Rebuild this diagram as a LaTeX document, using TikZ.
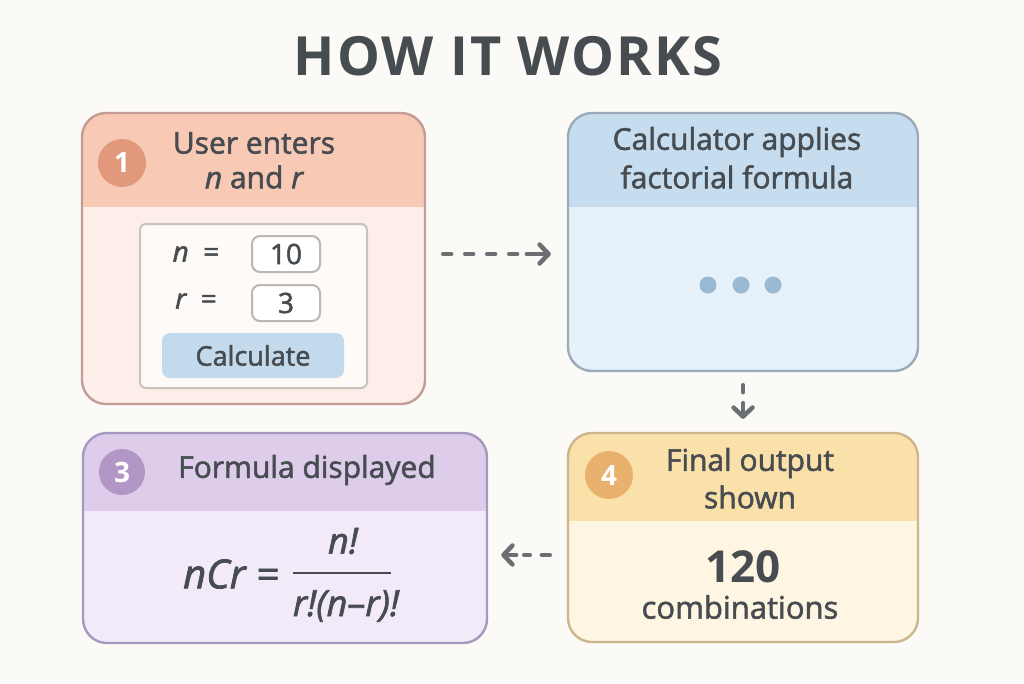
\documentclass[tikz,border=0pt]{standalone}
\usepackage{fontspec}
\setmainfont{Open Sans}
\newfontfamily\medfont{Open Sans}[FakeBold=1.8]
\newfontfamily\titlefont{Open Sans}[LetterSpace=4]
\usetikzlibrary{arrows.meta,calc}
\definecolor{bg}{HTML}{FBFAF7}
\definecolor{ink}{HTML}{474C50}
\definecolor{arr}{HTML}{6B6F72}
\definecolor{oHead}{HTML}{F8CAB6}
\definecolor{oBody}{HTML}{FDEEE9}
\definecolor{oLine}{HTML}{C49C96}
\definecolor{oBadge}{HTML}{E2987A}
\definecolor{bHead}{HTML}{C6DDF0}
\definecolor{bBody}{HTML}{E6F1FA}
\definecolor{bLine}{HTML}{9CABB9}
\definecolor{bDot}{HTML}{9AB9D3}
\definecolor{pHead}{HTML}{DDCDEA}
\definecolor{pBody}{HTML}{F2EAF8}
\definecolor{pLine}{HTML}{A699BF}
\definecolor{pBadge}{HTML}{B296C5}
\definecolor{yHead}{HTML}{FAE0A9}
\definecolor{yBody}{HTML}{FEF5E3}
\definecolor{yLine}{HTML}{CDB58C}
\definecolor{yBadge}{HTML}{E8B26E}
\definecolor{btn}{HTML}{C3DAED}
\definecolor{fieldLine}{HTML}{BEB6B1}
\definecolor{panel}{HTML}{FDFAF8}
\definecolor{panelLine}{HTML}{C9C3BF}
\tikzset{
  card/.style={draw, line width=2.4pt, rounded corners=24pt, inner sep=0pt},
  cardhead/.style 2 args={path picture={\fill[#1, sharp corners] (path picture bounding box.north west) rectangle ([yshift=-#2]path picture bounding box.north east);}},
  txt/.style={text=ink, font=\medfont\fontsize{30}{34}\selectfont, align=center, inner sep=0pt},
  badge/.style={circle, fill=#1, minimum size=48pt, inner sep=0pt, text=white, font=\fontsize{28}{30}\selectfont\bfseries},
  field/.style={draw=fieldLine, line width=2pt, fill=white, rounded corners=8pt, minimum width=68pt, minimum height=36pt, inner sep=0pt, text=ink, font=\medfont\fontsize{28}{30}\selectfont},
  dashpart/.style={draw=arr, line width=4.5pt, line cap=round, dash pattern=on 8pt off 14pt},
  headpart/.style={draw=arr, line width=4.5pt, line cap=round, -{Straight Barb[length=9pt,width=19pt,round]}}
}
\begin{document}
\begin{tikzpicture}[x=1pt,y=-1pt]
\useasboundingbox[fill=bg] (0,0) rectangle (1024,683);

\node[text=ink, font=\titlefont\fontsize{54}{60}\selectfont\bfseries] (title) at (508,56) {HOW IT WORKS};

% Card 1
\node[card, draw=oLine, fill=oBody, cardhead={oHead}{94pt}, minimum width=343pt, minimum height=291pt] (c1) at (253.5,258.5) {};
\node[badge=oBadge] (b1) at (122,163) {1};
\node[txt] (t1a) at (254,143) {User enters};
\node[txt] (t1b) at (254,177) {\itshape n\/\upshape{} and \itshape r};
\node[draw=panelLine, line width=2pt, fill=panel, rounded corners=6pt, minimum width=227pt, minimum height=164pt] (panel) at (253.5,306) {};
\node[txt, font=\medfont\fontsize{28}{30}\selectfont] (ln) at (196,254) {\itshape n\upshape\ \ =};
\node[txt, font=\medfont\fontsize{28}{30}\selectfont] (lr) at (196,301) {\itshape r\upshape\ \ =};
\node[field] (fn) at (286,254) {10};
\node[field] (fr) at (286,303) {3};
\node[fill=btn, rounded corners=8pt, minimum width=182pt, minimum height=45pt, inner sep=0pt, text=ink, font=\medfont\fontsize{27}{30}\selectfont] (calc) at (253,355.5) {Calculate};

% Card 2
\node[card, draw=bLine, fill=bBody, cardhead={bHead}{94pt}, minimum width=350pt, minimum height=258pt] (c2) at (743,242) {};
\node[txt] (t2a) at (737,142) {Calculator applies};
\node[txt] (t2b) at (737,177) {factorial formula};
\fill[bDot] (708,285) circle (8.5pt) (741,285) circle (8.5pt) (773,285) circle (8.5pt);

% Card 3
\node[card, draw=pLine, fill=pBody, cardhead={pHead}{78pt}, minimum width=404pt, minimum height=210pt] (c3) at (285,538) {};
\node[badge=pBadge, minimum size=46pt] (b3) at (122,472) {3};
\node[txt] (t3) at (307,470) {Formula displayed};
\node[txt, font=\medfont\fontsize{40}{44}\selectfont\itshape, anchor=east] (lhs) at (279,574) {nCr =};
\node[txt, font=\medfont\fontsize{36}{40}\selectfont\itshape] (num) at (343,541) {n!};
\node[txt, font=\medfont\fontsize{36}{40}\selectfont\itshape] (den) at (346,606) {r!(n{\upshape –}r)!};
\draw[ink, line width=2.6pt] (293,573) coordinate (fl) -- (391,573) coordinate (fr2);

% Card 4
\node[card, draw=yLine, fill=yBody, cardhead={yHead}{88pt}, minimum width=350pt, minimum height=209pt] (c4) at (743,537.5) {};
\node[badge=yBadge] (b4) at (609,475) {4};
\node[txt] (t4a) at (750,463) {Final output};
\node[txt] (t4b) at (750,497) {shown};
\node[txt, font=\fontsize{44}{48}\selectfont\bfseries] (res) at (743,567) {120};
\node[txt, font=\medfont\fontsize{31}{34}\selectfont] (comb) at (740,607) {combinations};

% Connectors
% 1 -> 2
\coordinate (a1s) at ([xshift=17pt,yshift=4.5pt]c1.east);
\coordinate (a1m) at ([xshift=-40pt,yshift=4.5pt]c1.east -| c2.west);
\draw[dashpart] (a1s) -- ([xshift=-9pt]a1m);
\draw[headpart] (a1m) -- ([xshift=-16pt,yshift=4.5pt]c1.east -| c2.west);
% 2 -> 4
\coordinate (a2s) at (c2.south);
\coordinate (a2m) at ([yshift=-31pt]c2.south);
\draw[dashpart] ([yshift=-13pt]a2s) -- ([yshift=-20pt]a2s);
\draw[headpart] (a2m) -- ([yshift=13pt]c4.north);
% 4 -> 3
\coordinate (a3s) at ([xshift=-17pt,yshift=-17.5pt]c4.west);
\coordinate (a3m) at ([xshift=28pt,yshift=-17.5pt]c4.west -| c3.east);
\draw[dashpart, dash pattern=on 8pt off 12pt] (a3s) -- ([xshift=8pt]a3m);
\draw[headpart] (a3m) -- ([xshift=13pt,yshift=-17.5pt]c4.west -| c3.east);
\end{tikzpicture}
\end{document}
